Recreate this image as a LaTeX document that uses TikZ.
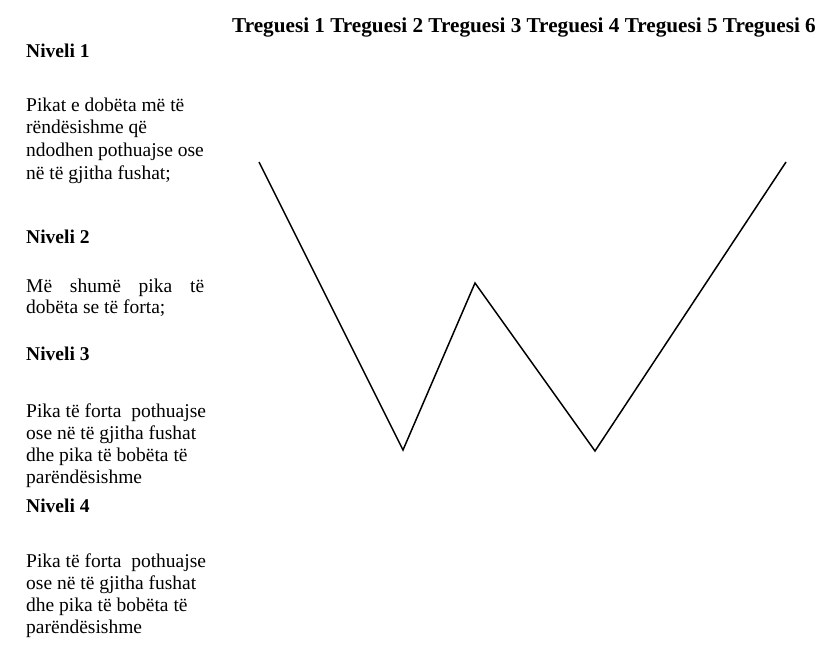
\documentclass[tikz,border=0pt]{standalone}
\usepackage{fontspec}
\setmainfont{Liberation Serif}
\begin{document}
\begin{tikzpicture}[x={(1pt,0)},y={(0,-1pt)},
  body/.style={anchor=base west,inner sep=0pt,font=\fontsize{19.5}{22}\selectfont},
  head/.style={body,font=\fontsize{19.5}{22}\selectfont\bfseries},
  wline/.style={line width=1.5pt,line join=miter}]
\useasboundingbox (0,0) rectangle (837,663);
\node[head,font=\fontsize{21.2}{24}\selectfont\bfseries] (hdr) at (232,33) {Treguesi 1 Treguesi 2 Treguesi 3 Treguesi 4 Treguesi 5 Treguesi 6};
% Niveli 1
\node[head] (n1) at (26,58) {Niveli 1};
\node[body] (n1a) at (26,112) {Pikat e dobëta më të};
\node[body] (n1b) at (26,134) {rëndësishme që};
\node[body] (n1c) at (26,157) {ndodhen pothuajse ose};
\node[body] (n1d) at (26,179) {në të gjitha fushat;};
% Niveli 2
\node[head] (n2) at (26,243) {Niveli 2};
\node[body] (n2a) at (26,292) {\makebox[178pt][s]{Më\hfill shumë\hfill pika\hfill të}};
\node[body] (n2b) at (26,313) {dobëta se të forta;};
% Niveli 3
\node[head] (n3) at (26,360) {Niveli 3};
\node[body] (n3a) at (26,417) {Pika të forta\ \ pothuajse};
\node[body] (n3b) at (26,439) {ose në të gjitha fushat};
\node[body] (n3c) at (26,461) {dhe pika të bobëta të};
\node[body] (n3d) at (26,483) {parëndësishme};
% Niveli 4
\node[head] (n4) at (26,512) {Niveli 4};
\node[body] (n4a) at (26,567) {Pika të forta\ \ pothuajse};
\node[body] (n4b) at (26,589) {ose në të gjitha fushat};
\node[body] (n4c) at (26,611) {dhe pika të bobëta të};
\node[body] (n4d) at (26,633) {parëndësishme};
% W line
\coordinate (w1) at (259,162);
\coordinate (w2) at (403,450);
\coordinate (w3) at (475,283);
\coordinate (w4) at (595,451);
\coordinate (w5) at (786,162);
\draw[wline] (w1) -- (w2) -- (w3) -- (w4) -- (w5);
\end{tikzpicture}
\end{document}
